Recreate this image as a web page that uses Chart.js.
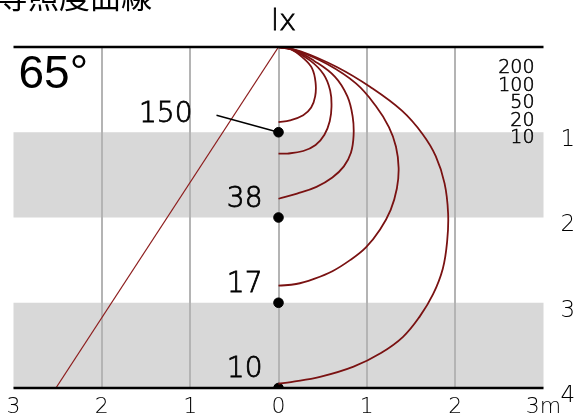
<!DOCTYPE html>
<html>
<head>
<meta charset="utf-8">
<script src="https://cdn.jsdelivr.net/npm/chart.js@4"></script>
<style>
  html, body { margin: 0; padding: 0; background: #fff; }
  canvas { display: block; }
</style>
</head>
<body>
<canvas id="chart" width="578" height="418"></canvas>
<script>
// Werte (x = seitlicher Abstand in m, y = Tiefe in m)
const luxLevels = [200, 100, 50, 20, 10];
const depths = [1, 2, 3, 4];
const centerLux = [150, 38, 17, 10];
const beamAngle = '65°';
const beamEdge = [{x: 0, y: 0}, {x: -2.52, y: 4}];
const xTicks = [-3, -2, -1, 0, 1, 2, 3];
const bands = [[1, 2], [3, 4]];

const curve200 = [
  {x: 0, y: 0}, {x: 0.13, y: 0.02}, {x: 0.28, y: 0.13}, {x: 0.38, y: 0.25}, {x: 0.42, y: 0.42},
  {x: 0.415, y: 0.58}, {x: 0.37, y: 0.71}, {x: 0.28, y: 0.80}, {x: 0.13, y: 0.86}, {x: 0, y: 0.88}
];
const curve100 = [
  {x: 0, y: 0}, {x: 0.15, y: 0.03}, {x: 0.36, y: 0.16}, {x: 0.51, y: 0.32}, {x: 0.585, y: 0.51},
  {x: 0.60, y: 0.70}, {x: 0.58, y: 0.87}, {x: 0.52, y: 1.03}, {x: 0.42, y: 1.15},
  {x: 0.28, y: 1.22}, {x: 0.10, y: 1.25}, {x: 0, y: 1.25}
];
const curve50 = [
  {x: 0, y: 0}, {x: 0.17, y: 0.03}, {x: 0.40, y: 0.16}, {x: 0.64, y: 0.35}, {x: 0.78, y: 0.58},
  {x: 0.84, y: 0.82}, {x: 0.85, y: 1.04}, {x: 0.82, y: 1.24}, {x: 0.74, y: 1.40},
  {x: 0.61, y: 1.53}, {x: 0.43, y: 1.64}, {x: 0.21, y: 1.72}, {x: 0, y: 1.78}
];
const curve20 = [
  {x: 0, y: 0}, {x: 0.20, y: 0.04}, {x: 0.55, y: 0.20}, {x: 0.88, y: 0.43}, {x: 1.10, y: 0.69},
  {x: 1.25, y: 0.94}, {x: 1.33, y: 1.17}, {x: 1.36, y: 1.42}, {x: 1.34, y: 1.66},
  {x: 1.27, y: 1.91}, {x: 1.15, y: 2.14}, {x: 0.99, y: 2.35}, {x: 0.81, y: 2.50},
  {x: 0.61, y: 2.63}, {x: 0.40, y: 2.72}, {x: 0.20, y: 2.78}, {x: 0, y: 2.80}
];
const curve10 = [
  {x: 0, y: 0}, {x: 0.25, y: 0.05}, {x: 0.66, y: 0.235}, {x: 1.04, y: 0.47}, {x: 1.40, y: 0.75},
  {x: 1.63, y: 1.02}, {x: 1.78, y: 1.28}, {x: 1.88, y: 1.60}, {x: 1.92, y: 1.95},
  {x: 1.91, y: 2.27}, {x: 1.86, y: 2.60}, {x: 1.75, y: 2.90}, {x: 1.60, y: 3.16},
  {x: 1.41, y: 3.40}, {x: 1.16, y: 3.59}, {x: 0.85, y: 3.75}, {x: 0.47, y: 3.87},
  {x: 0.14, y: 3.93}, {x: 0, y: 3.95}
];
const curves = [curve200, curve100, curve50, curve20, curve10];

const curveColor = '#7a1212';
const numFont = '"DejaVu Sans", sans-serif';

// Text etwas kräftiger als ExtraLight
function drawText(ctx, txt, x, y, w) {
  ctx.fillText(txt, x, y);
  ctx.lineWidth = w;
  ctx.strokeText(txt, x, y);
}

// Graue Bänder + Texte + Rahmenlinien
const decor = {
  id: 'decor',
  beforeDraw(chart) {
    const {ctx, chartArea: a, scales: {y}} = chart;
    ctx.save();
    ctx.fillStyle = '#d8d8d8';
    bands.forEach(([b0, b1]) => {
      const y0 = y.getPixelForValue(b0), y1 = y.getPixelForValue(b1);
      ctx.fillRect(a.left, y0, a.right - a.left, y1 - y0);
    });
    ctx.restore();
  },
  afterDatasetsDraw(chart) {
    const {ctx, chartArea: a, scales: {x, y}} = chart;
    ctx.save();
    // Rahmen oben/unten
    ctx.strokeStyle = '#000';
    ctx.lineWidth = 2.5;
    ctx.beginPath();
    ctx.moveTo(a.left, a.top); ctx.lineTo(a.right, a.top);
    ctx.moveTo(a.left, a.bottom); ctx.lineTo(a.right, a.bottom);
    ctx.stroke();

    ctx.fillStyle = '#000';
    ctx.strokeStyle = '#000';
    // Titel (oben abgeschnitten)
    ctx.font = '31px "Noto Sans CJK JP", sans-serif';
    ctx.textAlign = 'left';
    ctx.textBaseline = 'alphabetic';
    ctx.fillText('等照度曲線', -3, 8);

    // lx über der Mitte
    const x0 = x.getPixelForValue(0);
    ctx.font = '200 29px ' + numFont;
    ctx.textAlign = 'center';
    ctx.textBaseline = 'middle';
    drawText(ctx, 'lx', x0 + 5, 22, 0.8);

    // Abstrahlwinkel
    ctx.font = '46px "Liberation Sans", Arial, sans-serif';
    ctx.textAlign = 'left';
    ctx.textBaseline = 'alphabetic';
    ctx.fillText(beamAngle, a.left + 5, a.top + 41);

    // Legende der Kurvenwerte
    ctx.font = '200 19px ' + numFont;
    ctx.textAlign = 'right';
    ctx.textBaseline = 'middle';
    luxLevels.forEach((v, i) => drawText(ctx, String(v), a.right - 9, a.top + 21 + i * 17.6, 0.55));

    // Werte an den Messpunkten
    ctx.font = '200 28px ' + numFont;
    depths.forEach((d, i) => {
      const py = y.getPixelForValue(d);
      if (i === 0) {
        drawText(ctx, String(centerLux[i]), x0 - 86, py - 18, 0.8);
        ctx.lineWidth = 1.3;
        ctx.beginPath();
        ctx.moveTo(x0 - 62, py - 17);
        ctx.lineTo(x0, py);
        ctx.stroke();
      } else {
        drawText(ctx, String(centerLux[i]), x0 - 16, py - 18, 0.8);
      }
    });
    ctx.restore();
  }
};

const datasets = curves.map((c, i) => ({
  label: luxLevels[i] + ' lx',
  data: c,
  showLine: true,
  borderColor: curveColor,
  borderWidth: 1.8,
  pointRadius: 0,
  tension: 0.4,
  clip: 0
}));
datasets.push({
  label: 'beam',
  data: beamEdge,
  showLine: true,
  borderColor: '#8c1c1c',
  borderWidth: 1.2,
  pointRadius: 0,
  clip: 0
});
datasets.push({
  label: 'center',
  data: depths.map(d => ({x: 0, y: d})),
  showLine: false,
  pointRadius: 4.8,
  pointBackgroundColor: '#000',
  pointBorderColor: '#000',
  clip: 0
});

new Chart(document.getElementById('chart'), {
  type: 'scatter',
  data: {datasets},
  options: {
    responsive: false,
    animation: false,
    layout: {padding: {top: 47, left: 13.5, right: 0, bottom: 0}},
    plugins: {legend: {display: false}, tooltip: {enabled: false}},
    scales: {
      x: {
        type: 'linear', min: -3, max: 3,
        afterBuildTicks: s => { s.ticks = xTicks.map(v => ({value: v})); },
        afterFit: s => { s.height = 30; },
        border: {display: false},
        grid: {
          drawTicks: false,
          lineWidth: 2,
          color: c => Math.abs(c.tick.value) === 3 ? 'rgba(0,0,0,0)' : '#b4b4b4'
        },
        ticks: {
          padding: 6,
          color: '#000',
          font: {family: numFont, size: 22, weight: '200'},
          callback: v => v === 3 ? '3m' : String(Math.abs(v))
        }
      },
      y: {
        type: 'linear', min: 0, max: 4, reverse: true, position: 'right',
        afterFit: s => { s.width = 34.5; },
        border: {display: false},
        grid: {display: false},
        ticks: {
          stepSize: 1,
          padding: 9,
          labelOffset: 8,
          color: '#000',
          font: {family: numFont, size: 23, weight: '200'},
          callback: v => v === 0 ? '' : String(v)
        }
      }
    }
  },
  plugins: [decor]
});
</script>
</body>
</html>
